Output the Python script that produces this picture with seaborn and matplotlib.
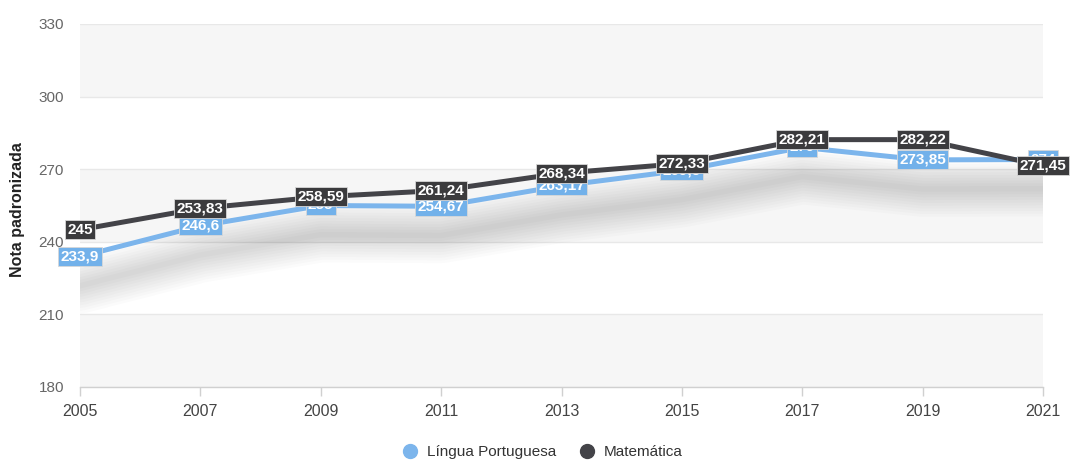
import matplotlib
matplotlib.use("Agg")
import matplotlib.pyplot as plt
import matplotlib.patheffects as pe
from matplotlib.lines import Line2D
import seaborn as sns
import pandas as pd

# ---- data ----
years = [2005, 2007, 2009, 2011, 2013, 2015, 2017, 2019, 2021]
portugues = [233.9, 246.6, 255.0, 254.67, 263.17, 269.5, 279.0, 273.85, 274.0]
matematica = [245, 253.83, 258.59, 261.24, 268.34, 272.33, 282.21, 282.22, 271.45]
series_names = ["Língua Portuguesa", "Matemática"]
y_ticks = [180, 210, 240, 270, 300, 330]
x_ticks = years

c_port = "#7cb5ec"
c_mat = "#434348"
box_port = "#72b1ea"
box_mat = "#3b3b3d"

sns.set_theme(style="white")
plt.rcParams['font.family'] = ['Liberation Sans', 'DejaVu Sans']

df = pd.DataFrame({
    "ano": years * 2,
    "nota": portugues + matematica,
    "serie": [series_names[0]] * len(years) + [series_names[1]] * len(years),
})

fig = plt.figure(figsize=(10.71, 4.61), dpi=100)
ax = fig.add_axes([80 / 1071, 1 - 387 / 461, (1043 - 80) / 1071, (387 - 24) / 461])

# alternating bands and grid
for i in range(len(y_ticks) - 1):
    if i % 2 == 0:
        ax.axhspan(y_ticks[i], y_ticks[i + 1], color="#f6f6f6", zorder=0, lw=0)
for t in y_ticks:
    ax.axhline(t, color="#e8e8e8", lw=1, zorder=0.5)

# soft shadow below the lines
shadow = [pe.SimpleLineShadow(offset=(0, -21), shadow_color="#000000", alpha=0.014,
                              linewidth=w, capstyle="round", joinstyle="round")
          for w in [4, 8, 12, 16, 20, 24, 28, 32, 36, 40]]
ax.plot(years, portugues, color="#000000", lw=1, path_effects=shadow, zorder=1)

sns.lineplot(data=df, x="ano", y="nota", hue="serie", palette=[c_port, c_mat],
             linewidth=3.6, ax=ax, legend=False, zorder=3, sort=False)


def fmt(v):
    s = f"{v:.2f}".rstrip("0").rstrip(".")
    return s.replace(".", ",")


for vals, bc, z in [(portugues, box_port, 5), (matematica, box_mat, 6)]:
    for x, v in zip(years, vals):
        ax.text(x, v, fmt(v), ha="center", va="center", fontsize=11,
                fontweight="bold", color="white", zorder=z, clip_on=False,
                bbox=dict(boxstyle="square,pad=0.16", fc=bc, ec="#d8d8d8", lw=0.6))

ax.set_xlim(years[0], years[-1])
ax.set_ylim(y_ticks[0], y_ticks[-1])
ax.set_xticks(x_ticks)
ax.set_yticks(y_ticks)
ax.set_xticklabels([str(t) for t in x_ticks])
ax.tick_params(axis="y", length=0, pad=11.5, labelsize=11, labelcolor="#666666")
ax.tick_params(axis="x", length=6.5, width=1, color="#d0d0d0", pad=6,
               labelsize=11.5, labelcolor="#444444", direction="out", bottom=True)
for s in ["top", "right", "left"]:
    ax.spines[s].set_visible(False)
ax.spines["bottom"].set_color("#d0d0d0")
ax.spines["bottom"].set_linewidth(1)
ax.set_xlabel("")
ax.set_ylabel("Nota padronizada", fontsize=11.5, fontweight="bold", color="#222222")
ax.yaxis.set_label_coords(-0.057, 0.49)

handles = [Line2D([0], [0], marker="o", lw=0, markersize=10, markerfacecolor=c,
                  markeredgecolor=c) for c in [c_port, c_mat]]
fig.legend(handles, series_names, loc="center", bbox_to_anchor=(539 / 1071, 1 - 452 / 461),
           ncol=2, frameon=False, fontsize=11, handletextpad=0.1, columnspacing=1.0,
           labelcolor="#333333")

fig.savefig("out.png", dpi=100)
